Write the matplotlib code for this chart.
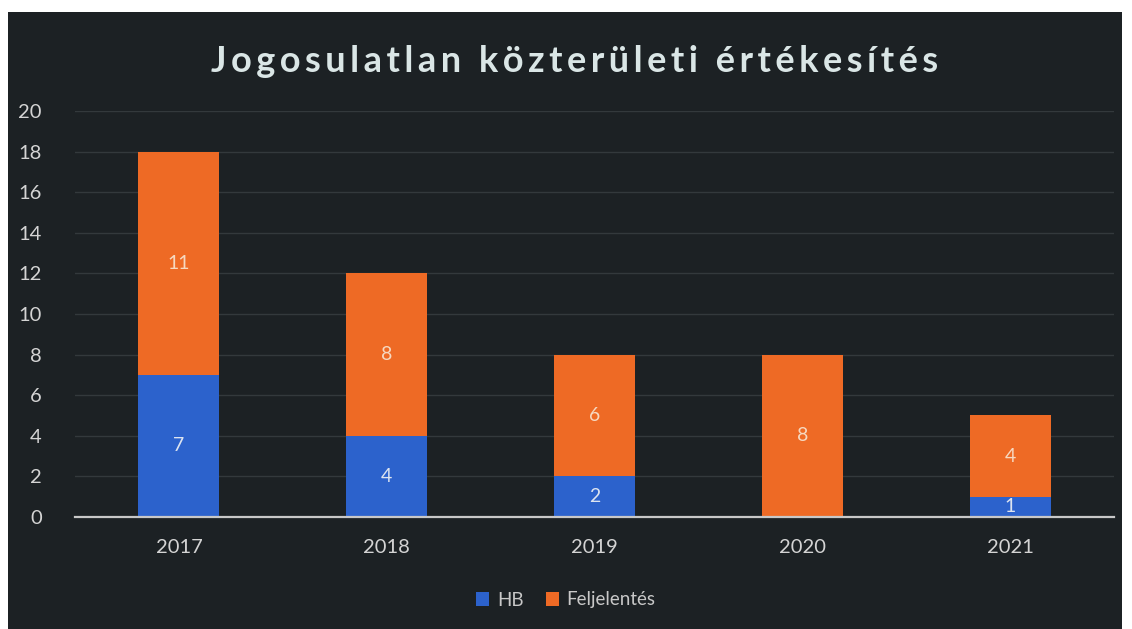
import matplotlib.pyplot as plt
from matplotlib.patches import Rectangle
import numpy as np

# chart data
years = ["2017", "2018", "2019", "2020", "2021"]
hb = [7, 4, 2, 0, 1]
feljelentes = [11, 8, 6, 8, 4]
title = "Jogosulatlan közterületi értékesítés"

plt.rcParams['font.family'] = ['Lato', 'DejaVu Sans']

fig = plt.figure(figsize=(11.32, 6.29), dpi=100)
fig.patch.set_facecolor("white")

# dark slide background inside the white frame
fig.patches.append(Rectangle((8 / 1132, 0), 1114 / 1132, 1 - 12 / 629,
                             transform=fig.transFigure, facecolor="#1c2124",
                             edgecolor="none", zorder=-5))

ax = fig.add_axes([75 / 1132, 1 - 517 / 629, (1114 - 75) / 1132, (517 - 111) / 629])
ax.set_facecolor("none")

x = np.arange(len(years))
blue = "#2c62cc"
orange = "#ee6a25"
b1 = ax.bar(x, hb, width=0.39, color=blue, label="HB", zorder=3)
b2 = ax.bar(x, feljelentes, width=0.39, bottom=hb, color=orange, label="Feljelentés", zorder=3)

# value labels, skip the zero segment
for rect, v in zip(b1, hb):
    if v:
        ax.text(rect.get_x() + rect.get_width() / 2, rect.get_y() + v / 2, str(v),
                ha="center", va="center", color="#dde4f0", fontsize=14, zorder=4)
for rect, v, base in zip(b2, feljelentes, hb):
    ax.text(rect.get_x() + rect.get_width() / 2, base + v / 2, str(v),
            ha="center", va="center", color="#f6d8c0", fontsize=14, zorder=4)

ax.set_ylim(0, 20)
ax.set_xlim(-0.5, len(years) - 0.5)
ax.set_yticks(range(0, 21, 2))
ax.set_xticks(x)
ax.set_xticklabels(years)
ax.yaxis.grid(True, color="#33393c", linewidth=1, zorder=0)
ax.tick_params(axis="both", length=0, colors="#d4d4d4", labelsize=14.5)
ax.tick_params(axis="y", pad=24)
ax.tick_params(axis="x", pad=16)
for s in ["top", "right", "left"]:
    ax.spines[s].set_visible(False)
ax.spines["bottom"].set_color("#c8c8c8")
ax.spines["bottom"].set_linewidth(1.6)
ax.spines["bottom"].set_zorder(5)

# spaced-out title letters
spaced = "\u2009".join(title)
fig.text(575 / 1132, 1 - 62 / 629, spaced,
         ha="center", va="center", color="#dae6e6", fontsize=26, fontweight="bold")

leg = fig.legend(handles=[b1, b2], loc="center", bbox_to_anchor=(0.5, 1 - 600 / 629),
                 ncol=2, frameon=False, fontsize=13.5, handlelength=0.7, handleheight=0.7,
                 handletextpad=0.4, columnspacing=1.2)
for t in leg.get_texts():
    t.set_color("#c8c8c8")

fig.savefig("out.png", dpi=100)
